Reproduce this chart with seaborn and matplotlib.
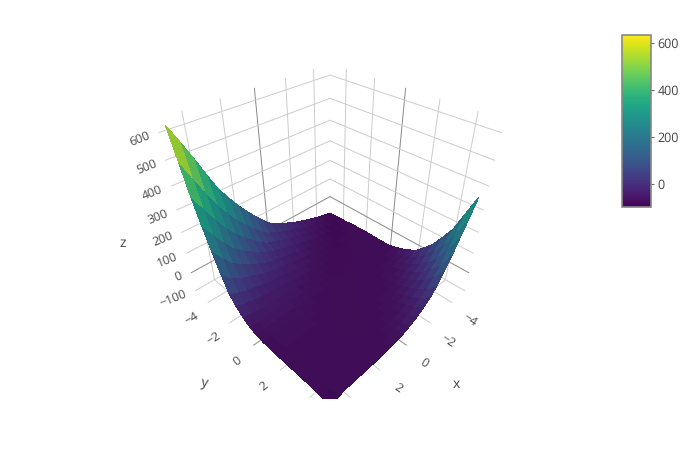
import matplotlib
matplotlib.use("Agg")
import matplotlib.pyplot as plt
import numpy as np
import seaborn as sns
from matplotlib.cm import ScalarMappable
from mpl_toolkits.mplot3d import proj3d

sns.set_theme(style="white")
plt.rcParams["font.family"] = ["Open Sans", "DejaVu Sans"]
plt.rcParams["text.hinting"] = "no_hinting"

# surface values, one row per y, columns run along x
x_grid = [-5, -4.5, -4, -3.5, -3, -2.5, -2, -1.5, -1, -0.5, 0, 0.5, 1, 1.5, 2, 2.5, 3, 3.5, 4, 4.5, 5]
y_grid = [-5, -4.5, -4, -3.5, -3, -2.5, -2, -1.5, -1, -0.5, 0, 0.5, 1, 1.5, 2, 2.5, 3, 3.5, 4, 4.5, 5]
z_rows = [
    [-80, -72, -65, -55, -45, -33, -20, -5, 10, 28, 50, 85, 125, 168, 215, 268, 325, 400, 480, 555, 625],
    [-79, -79, -72, -66, -57, -47, -36, -24, -10, 3, 19, 39, 70, 106, 144, 186, 237, 294, 363, 435, 510],
    [-77, -78, -78, -71, -65, -57, -48, -38, -27, -15, -3, 10, 27, 55, 86, 120, 157, 207, 263, 327, 390],
    [-75, -76, -78, -78, -71, -65, -58, -50, -41, -31, -20, -10, 2, 16, 40, 67, 96, 128, 176, 231, 290],
    [-72, -75, -76, -77, -77, -71, -66, -59, -51, -43, -34, -25, -17, -7, 5, 25, 48, 72, 98, 146, 200],
    [-70, -72, -74, -75, -76, -76, -71, -66, -59, -53, -46, -38, -30, -23, -16, -6, 10, 28, 48, 70, 115],
    [-68, -70, -72, -74, -75, -76, -75, -70, -66, -60, -55, -48, -42, -35, -30, -24, -18, -5, 9, 24, 40],
    [-69, -68, -70, -71, -73, -74, -75, -75, -70, -66, -61, -56, -51, -46, -41, -37, -33, -29, -20, -11, 0],
    [-70, -69, -68, -70, -71, -73, -74, -74, -74, -70, -66, -62, -58, -53, -49, -46, -43, -42, -40, -35, -30],
    [-70, -70, -69, -68, -70, -71, -72, -73, -73, -73, -69, -67, -63, -60, -56, -53, -51, -50, -50, -52, -50],
    [-70, -69, -69, -68, -68, -69, -71, -72, -72, -73, -72, -69, -67, -64, -61, -58, -56, -56, -56, -59, -63],
    [-62, -68, -68, -69, -68, -68, -69, -71, -71, -72, -72, -72, -69, -67, -65, -63, -61, -60, -61, -63, -68],
    [-50, -60, -66, -67, -68, -68, -68, -69, -70, -71, -71, -71, -71, -69, -67, -66, -65, -64, -64, -66, -70],
    [-35, -47, -57, -64, -66, -68, -68, -68, -69, -70, -71, -71, -71, -70, -68, -68, -67, -66, -67, -68, -71],
    [-15, -31, -44, -55, -63, -66, -68, -68, -68, -69, -70, -70, -70, -70, -70, -68, -68, -68, -68, -69, -71],
    [20, -9, -26, -40, -52, -61, -65, -67, -68, -68, -69, -70, -70, -70, -69, -69, -68, -68, -69, -70, -71],
    [60, 28, -3, -22, -38, -50, -59, -64, -67, -68, -68, -69, -70, -70, -69, -69, -68, -68, -69, -70, -72],
    [115, 72, 36, 3, -18, -34, -47, -57, -63, -66, -67, -68, -69, -69, -69, -69, -68, -68, -67, -69, -72],
    [175, 132, 85, 44, 9, -14, -31, -45, -56, -62, -66, -67, -68, -69, -69, -69, -68, -67, -67, -70, -74],
    [265, 203, 148, 96, 52, 15, -9, -28, -42, -54, -61, -65, -67, -68, -69, -69, -68, -67, -68, -72, -78],
    [355, 290, 230, 165, 110, 60, 21, -5, -25, -40, -52, -60, -65, -67, -68, -69, -69, -68, -70, -75, -85],
]

# axes
x_ticks = [-4, -2, 0, 2, 4]
y_ticks = [-4, -2, 0, 2, 4]
z_ticks = [-100, 0, 100, 200, 300, 400, 500, 600]
bar_ticks = [0, 200, 400, 600]
x_range = (-5.25, 5.25)
y_range = (-5.25, 5.25)
z_range = (-98, 672)
wall_top = 645
color_range = (-98, 634)

text_color = "#444444"
grid_color = "#cccccc"
zero_color = "#888888"

fig = plt.figure(figsize=(7, 4.5), dpi=100)
ax = fig.add_axes([143.6 / 700, 50.6 / 450, 363 / 700, 363 / 450], projection="3d",
                  computed_zorder=False, proj_type="persp", focal_length=0.238)
ax.set_box_aspect((1, 1, 1))
ax.view_init(elev=35.26, azim=45)
ax.set_xlim(*x_range, view_margin=0)
ax.set_ylim(*y_range, view_margin=0)
ax.set_zlim(*z_range, view_margin=0)
ax.set_axis_off()
ax.patch.set_alpha(0)


def grid_line(xs, ys, zs, tick):
    color = zero_color if tick == 0 else grid_color
    ax.plot(xs, ys, zs, color=color, lw=0.7, zorder=1)


# back walls and floor
for t in x_ticks:
    grid_line([t, t], [y_range[0], y_range[0]], [z_range[0], wall_top], t)
    grid_line([t, t], y_range, [z_range[0], z_range[0]], t)
for t in y_ticks:
    grid_line([x_range[0], x_range[0]], [t, t], [z_range[0], wall_top], t)
    grid_line(x_range, [t, t], [z_range[0], z_range[0]], t)
for t in z_ticks:
    zt = max(t, z_range[0])
    grid_line(x_range, [y_range[0], y_range[0]], [zt, zt], t)
    grid_line([x_range[0], x_range[0]], y_range, [zt, zt], t)

# surface, darkened a little like the lit surface in the reference
X, Y = np.meshgrid(x_grid, y_grid)
Z = np.array(z_rows, dtype=float)
cmap = sns.color_palette("viridis", as_cmap=True)
norm = plt.Normalize(*color_range)
cells = (Z[:-1, :-1] + Z[1:, :-1] + Z[:-1, 1:] + Z[1:, 1:]) / 4
cell_colors = cmap(norm(cells))
cell_colors[..., :3] *= 0.9
ax.plot_surface(X, Y, Z, facecolors=cell_colors, rstride=1, cstride=1,
                shade=False, linewidth=0, antialiased=False, zorder=2)


def tick_label(x, y, z, text, dx, dy, rot, ha):
    px, py, _ = proj3d.proj_transform(x, y, z, ax.get_proj())
    ax.annotate(text, xy=(px, py), xytext=(dx, dy), textcoords="offset pixels", rotation=rot,
                rotation_mode="anchor", ha=ha, va="center", color=text_color, fontsize=8.8,
                annotation_clip=False)


def minus(t):
    return str(t).replace("-", "\u2212")


for t in z_ticks:
    tick_label(x_range[1], y_range[0], max(t, z_range[0]), minus(t), -9, -3, 22, "right")
for t, rot in zip(y_ticks[:-1], [31, 32, 36, 40]):
    tick_label(x_range[1], t, z_range[0], minus(t), -16, -16, rot, "center")
for t in x_ticks[:-1]:
    tick_label(t, y_range[1], z_range[0], minus(t), 18, -18, -33, "center")

fig.text(123 / 700, 1 - 243 / 450, "z", color=text_color, fontsize=10, ha="center", va="center")
fig.text(205 / 700, 1 - 383 / 450, "y", color=text_color, fontsize=10, ha="center", va="center", rotation=-10)
fig.text(456 / 700, 1 - 384 / 450, "x", color=text_color, fontsize=10, ha="center", va="center")

# colorbar
cax = fig.add_axes([622 / 700, 1 - 207 / 450, 29 / 700, 172 / 450])
bar = fig.colorbar(ScalarMappable(norm=norm, cmap=cmap), cax=cax, ticks=bar_ticks)
bar.outline.set_edgecolor("#888888")
bar.outline.set_linewidth(1.2)
bar.ax.tick_params(length=2.5, width=0.8, color="#666666", labelcolor=text_color, labelsize=9, pad=2)

fig.savefig("out.png", dpi=100)
